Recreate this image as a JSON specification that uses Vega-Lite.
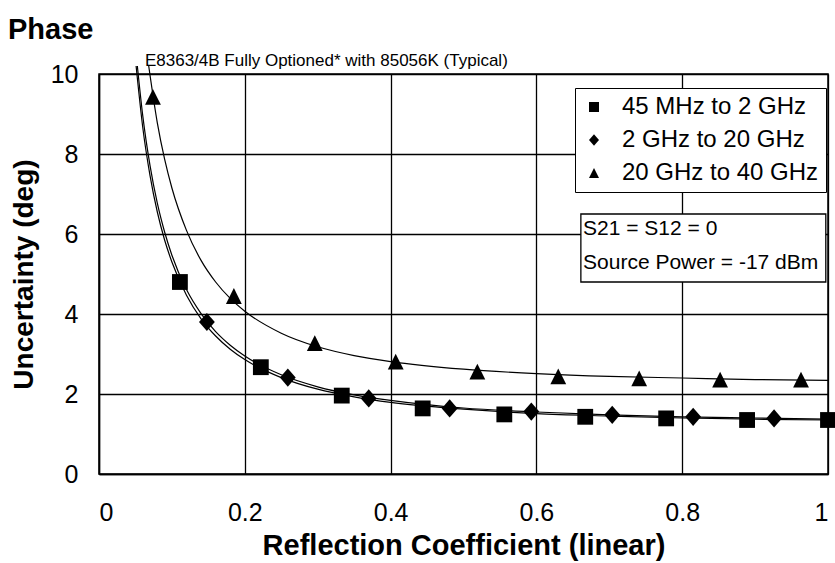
{
  "$schema": "https://vega.github.io/schema/vega-lite/v6.json",
  "width": 729,
  "height": 400,
  "autosize": "none",
  "padding": {"left": 99, "top": 74, "right": 7, "bottom": 89},
  "background": "white",
  "title": {
    "text": "Phase",
    "anchor": "start",
    "frame": "group",
    "dx": -91,
    "dy": 20,
    "offset": 4,
    "baseline": "alphabetic",
    "font": "Liberation Sans",
    "fontWeight": "bold",
    "fontSize": 29,
    "color": "black"
  },
  "datasets": {
    "points": [
      {"series": "45 MHz to 2 GHz", "x": 0.111, "y": 4.80},
      {"series": "45 MHz to 2 GHz", "x": 0.222, "y": 2.67},
      {"series": "45 MHz to 2 GHz", "x": 0.333, "y": 1.96},
      {"series": "45 MHz to 2 GHz", "x": 0.444, "y": 1.64},
      {"series": "45 MHz to 2 GHz", "x": 0.556, "y": 1.49},
      {"series": "45 MHz to 2 GHz", "x": 0.667, "y": 1.43},
      {"series": "45 MHz to 2 GHz", "x": 0.778, "y": 1.39},
      {"series": "45 MHz to 2 GHz", "x": 0.889, "y": 1.35},
      {"series": "45 MHz to 2 GHz", "x": 1.0, "y": 1.35},
      {"series": "2 GHz to 20 GHz", "x": 0.148, "y": 3.80},
      {"series": "2 GHz to 20 GHz", "x": 0.259, "y": 2.41},
      {"series": "2 GHz to 20 GHz", "x": 0.370, "y": 1.89},
      {"series": "2 GHz to 20 GHz", "x": 0.481, "y": 1.64},
      {"series": "2 GHz to 20 GHz", "x": 0.593, "y": 1.56},
      {"series": "2 GHz to 20 GHz", "x": 0.704, "y": 1.48},
      {"series": "2 GHz to 20 GHz", "x": 0.815, "y": 1.43},
      {"series": "2 GHz to 20 GHz", "x": 0.926, "y": 1.39},
      {"series": "20 GHz to 40 GHz", "x": 0.074, "y": 9.43},
      {"series": "20 GHz to 40 GHz", "x": 0.185, "y": 4.45},
      {"series": "20 GHz to 40 GHz", "x": 0.296, "y": 3.27},
      {"series": "20 GHz to 40 GHz", "x": 0.407, "y": 2.81},
      {"series": "20 GHz to 40 GHz", "x": 0.519, "y": 2.56},
      {"series": "20 GHz to 40 GHz", "x": 0.630, "y": 2.44},
      {"series": "20 GHz to 40 GHz", "x": 0.741, "y": 2.39},
      {"series": "20 GHz to 40 GHz", "x": 0.852, "y": 2.36},
      {"series": "20 GHz to 40 GHz", "x": 0.963, "y": 2.36}
    ],
    "curves": [
      {"series": "45 MHz to 2 GHz", "x": 0.0509, "y": 10.2},
      {"series": "45 MHz to 2 GHz", "x": 0.06, "y": 8.67},
      {"series": "45 MHz to 2 GHz", "x": 0.07, "y": 7.46},
      {"series": "45 MHz to 2 GHz", "x": 0.08, "y": 6.55},
      {"series": "45 MHz to 2 GHz", "x": 0.09, "y": 5.85},
      {"series": "45 MHz to 2 GHz", "x": 0.10, "y": 5.30},
      {"series": "45 MHz to 2 GHz", "x": 0.12, "y": 4.47},
      {"series": "45 MHz to 2 GHz", "x": 0.14, "y": 3.88},
      {"series": "45 MHz to 2 GHz", "x": 0.16, "y": 3.45},
      {"series": "45 MHz to 2 GHz", "x": 0.18, "y": 3.12},
      {"series": "45 MHz to 2 GHz", "x": 0.20, "y": 2.86},
      {"series": "45 MHz to 2 GHz", "x": 0.25, "y": 2.41},
      {"series": "45 MHz to 2 GHz", "x": 0.30, "y": 2.12},
      {"series": "45 MHz to 2 GHz", "x": 0.35, "y": 1.93},
      {"series": "45 MHz to 2 GHz", "x": 0.40, "y": 1.79},
      {"series": "45 MHz to 2 GHz", "x": 0.50, "y": 1.62},
      {"series": "45 MHz to 2 GHz", "x": 0.60, "y": 1.51},
      {"series": "45 MHz to 2 GHz", "x": 0.70, "y": 1.45},
      {"series": "45 MHz to 2 GHz", "x": 0.80, "y": 1.40},
      {"series": "45 MHz to 2 GHz", "x": 0.90, "y": 1.37},
      {"series": "45 MHz to 2 GHz", "x": 1.00, "y": 1.35},
      {"series": "2 GHz to 20 GHz", "x": 0.0526, "y": 10.2},
      {"series": "2 GHz to 20 GHz", "x": 0.06, "y": 8.96},
      {"series": "2 GHz to 20 GHz", "x": 0.07, "y": 7.71},
      {"series": "2 GHz to 20 GHz", "x": 0.08, "y": 6.77},
      {"series": "2 GHz to 20 GHz", "x": 0.09, "y": 6.05},
      {"series": "2 GHz to 20 GHz", "x": 0.10, "y": 5.47},
      {"series": "2 GHz to 20 GHz", "x": 0.12, "y": 4.61},
      {"series": "2 GHz to 20 GHz", "x": 0.14, "y": 4.01},
      {"series": "2 GHz to 20 GHz", "x": 0.16, "y": 3.56},
      {"series": "2 GHz to 20 GHz", "x": 0.18, "y": 3.22},
      {"series": "2 GHz to 20 GHz", "x": 0.20, "y": 2.95},
      {"series": "2 GHz to 20 GHz", "x": 0.25, "y": 2.48},
      {"series": "2 GHz to 20 GHz", "x": 0.30, "y": 2.18},
      {"series": "2 GHz to 20 GHz", "x": 0.35, "y": 1.98},
      {"series": "2 GHz to 20 GHz", "x": 0.40, "y": 1.84},
      {"series": "2 GHz to 20 GHz", "x": 0.50, "y": 1.65},
      {"series": "2 GHz to 20 GHz", "x": 0.60, "y": 1.55},
      {"series": "2 GHz to 20 GHz", "x": 0.70, "y": 1.48},
      {"series": "2 GHz to 20 GHz", "x": 0.80, "y": 1.43},
      {"series": "2 GHz to 20 GHz", "x": 0.90, "y": 1.40},
      {"series": "2 GHz to 20 GHz", "x": 1.00, "y": 1.37},
      {"series": "20 GHz to 40 GHz", "x": 0.0682, "y": 10.2},
      {"series": "20 GHz to 40 GHz", "x": 0.08, "y": 8.78},
      {"series": "20 GHz to 40 GHz", "x": 0.09, "y": 7.87},
      {"series": "20 GHz to 40 GHz", "x": 0.10, "y": 7.15},
      {"series": "20 GHz to 40 GHz", "x": 0.12, "y": 6.09},
      {"series": "20 GHz to 40 GHz", "x": 0.14, "y": 5.34},
      {"series": "20 GHz to 40 GHz", "x": 0.16, "y": 4.80},
      {"series": "20 GHz to 40 GHz", "x": 0.18, "y": 4.39},
      {"series": "20 GHz to 40 GHz", "x": 0.20, "y": 4.07},
      {"series": "20 GHz to 40 GHz", "x": 0.25, "y": 3.52},
      {"series": "20 GHz to 40 GHz", "x": 0.30, "y": 3.18},
      {"series": "20 GHz to 40 GHz", "x": 0.35, "y": 2.96},
      {"series": "20 GHz to 40 GHz", "x": 0.40, "y": 2.81},
      {"series": "20 GHz to 40 GHz", "x": 0.50, "y": 2.62},
      {"series": "20 GHz to 40 GHz", "x": 0.60, "y": 2.51},
      {"series": "20 GHz to 40 GHz", "x": 0.70, "y": 2.44},
      {"series": "20 GHz to 40 GHz", "x": 0.80, "y": 2.40},
      {"series": "20 GHz to 40 GHz", "x": 0.90, "y": 2.36},
      {"series": "20 GHz to 40 GHz", "x": 1.00, "y": 2.34}
    ]
  },
  "layer": [
    {
      "data": {"name": "curves"},
      "mark": {"type": "line", "color": "black", "strokeWidth": 1.2, "interpolate": "monotone", "clip": false},
      "encoding": {
        "x": {
          "field": "x", "type": "quantitative",
          "scale": {"domain": [0, 1], "nice": false, "zero": false},
          "axis": {
            "values": [0, 0.2, 0.4, 0.6, 0.8, 1],
            "format": "~g",
            "title": "Reflection Coefficient (linear)",
            "titleFontSize": 29,
            "labelPadding": 26,
            "titlePadding": 6
          }
        },
        "y": {
          "field": "y", "type": "quantitative",
          "scale": {"domain": [0, 10], "nice": false},
          "axis": {
            "values": [0, 2, 4, 6, 8, 10],
            "title": "Uncertainty (deg)",
            "labelPadding": 21,
            "titlePadding": 12
          }
        },
        "detail": {"field": "series"}
      }
    },
    {
      "data": {"name": "points"},
      "mark": {"type": "point", "filled": true, "color": "black", "opacity": 1, "size": 250, "clip": false},
      "encoding": {
        "x": {"field": "x", "type": "quantitative"},
        "y": {"field": "y", "type": "quantitative"},
        "shape": {
          "field": "series", "type": "nominal",
          "scale": {
            "domain": ["45 MHz to 2 GHz", "2 GHz to 20 GHz", "20 GHz to 40 GHz"],
            "range": ["square", "M0,-1.15L1,0L0,1.15L-1,0Z", "M0,-1L-1,1L1,1Z"]
          },
          "legend": {
            "orient": "none",
            "legendX": 476,
            "legendY": 14,
            "title": null,
            "strokeColor": "black",
            "fillColor": "white",
            "padding": 7,
            "labelFont": "Liberation Sans",
            "labelFontSize": 24,
            "labelLimit": 400,
            "labelColor": "black",
            "labelOffset": 16,
            "symbolSize": 100,
            "symbolFillColor": "black",
            "symbolStrokeColor": "black",
            "rowPadding": 9
          }
        }
      }
    },
    {
      "data": {"values": [{}]},
      "mark": {"type": "rect", "fill": "white", "stroke": "black", "strokeWidth": 1.3},
      "encoding": {
        "x": {"datum": 0.661, "type": "quantitative"},
        "x2": {"datum": 0.997},
        "y": {"datum": 6.5, "type": "quantitative"},
        "y2": {"datum": 4.8}
      }
    },
    {
      "data": {"values": [{}]},
      "mark": {"type": "text", "text": "S21 = S12 = 0", "align": "left", "baseline": "middle", "font": "Liberation Sans", "fontSize": 21, "color": "black"},
      "encoding": {
        "x": {"datum": 0.664, "type": "quantitative"},
        "y": {"datum": 6.12, "type": "quantitative"}
      }
    },
    {
      "data": {"values": [{}]},
      "mark": {"type": "text", "text": "Source Power = -17 dBm", "align": "left", "baseline": "middle", "font": "Liberation Sans", "fontSize": 21, "color": "black"},
      "encoding": {
        "x": {"datum": 0.664, "type": "quantitative"},
        "y": {"datum": 5.27, "type": "quantitative"}
      }
    },
    {
      "data": {"values": [{}]},
      "mark": {"type": "text", "text": "E8363/4B Fully Optioned* with 85056K (Typical)", "align": "left", "baseline": "alphabetic", "dy": -8, "font": "Liberation Sans", "fontSize": 17, "color": "black"},
      "encoding": {
        "x": {"datum": 0.063, "type": "quantitative"},
        "y": {"datum": 10, "type": "quantitative"}
      }
    }
  ],
  "config": {
    "view": {"stroke": "black", "strokeWidth": 1.5},
    "axis": {
      "grid": true,
      "gridColor": "black",
      "gridOpacity": 1,
      "gridWidth": 1.3,
      "ticks": false,
      "domainColor": "black",
      "domainWidth": 1.5,
      "labelColor": "black",
      "labelFont": "Liberation Sans",
      "labelFontSize": 25,
      "titleColor": "black",
      "titleFont": "Liberation Sans",
      "titleFontWeight": "bold",
      "titleFontSize": 28
    }
  }
}
